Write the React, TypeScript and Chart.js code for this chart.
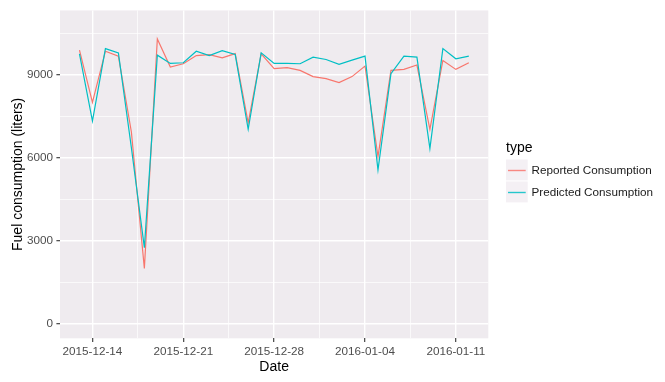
import React, { useEffect, useRef } from 'react';
import { Chart, registerables } from 'chart.js';

Chart.register(...registerables);

const dates = [
  '2015-12-13', '2015-12-14', '2015-12-15', '2015-12-16', '2015-12-17', '2015-12-18', '2015-12-19',
  '2015-12-20', '2015-12-21', '2015-12-22', '2015-12-23', '2015-12-24', '2015-12-25', '2015-12-26',
  '2015-12-27', '2015-12-28', '2015-12-29', '2015-12-30', '2015-12-31', '2016-01-01', '2016-01-02',
  '2016-01-03', '2016-01-04', '2016-01-05', '2016-01-06', '2016-01-07', '2016-01-08', '2016-01-09',
  '2016-01-10', '2016-01-11', '2016-01-12',
];

const reported = [
  9893, 8011, 9857, 9679, 6939, 2011, 10296, 9286, 9404, 9700, 9736, 9618, 9771, 7271, 9761,
  9225, 9261, 9164, 8939, 8868, 8725, 8939, 9321, 6046, 9164, 9200, 9357, 7036, 9521, 9200, 9439,
];

const predicted = [
  9761, 7332, 9950, 9796, 6368, 2761, 9714, 9414, 9439, 9857, 9700, 9879, 9736, 7036, 9796,
  9414, 9414, 9404, 9643, 9557, 9379, 9536, 9679, 5571, 9046, 9679, 9643, 6343, 9950, 9582, 9679,
];

const seriesNames = ['Reported Consumption', 'Predicted Consumption'];
const seriesColors = ['#F8766D', '#00BFC4'];
const xTickLabels = ['2015-12-14', '2015-12-21', '2015-12-28', '2016-01-04', '2016-01-11'];
const yTickValues = [0, 3000, 6000, 9000];
const legendTitle = 'type';
const xTitle = 'Date';
const yTitle = 'Fuel consumption (liters)';

const FONT = "'Liberation Sans', Arial, sans-serif";
const PANEL = '#EFEBEF';
const KEY_BG = '#F4F0F4';

const dayIndex = (s: string) =>
  (Date.parse(s + 'T00:00:00Z') - Date.parse(dates[0] + 'T00:00:00Z')) / 86400000;

const xMajor = xTickLabels.map(dayIndex);
const xMinor = xMajor.slice(1).map((v, i) => (v + xMajor[i]) / 2);
const X_MIN = -1.5;
const X_MAX = 31.5;
const Y_MIN = -515;
const Y_MAX = 11330;
const yStep = yTickValues[1] - yTickValues[0];
const yMinor = yTickValues.map((v) => v + yStep / 2).filter((v) => v <= Y_MAX);

const panelBg = {
  id: 'panelBg',
  beforeDraw(chart: any) {
    const { ctx, chartArea } = chart;
    const { left, top, right, bottom } = chartArea;
    ctx.save();
    ctx.fillStyle = PANEL;
    ctx.fillRect(left, top, right - left, bottom - top);
    ctx.restore();
  },
};

const legendPlugin = {
  id: 'ggLegend',
  afterDraw(chart: any) {
    const ctx = chart.ctx as CanvasRenderingContext2D;
    ctx.save();
    const x0 = 506;
    ctx.fillStyle = '#000000';
    ctx.font = `14px ${FONT}`;
    ctx.textAlign = 'left';
    ctx.textBaseline = 'middle';
    ctx.fillText(legendTitle, x0, 148.5);
    const keySize = 21.7;
    seriesNames.forEach((name, i) => {
      const ky = 159.5 + i * 22;
      ctx.fillStyle = KEY_BG;
      ctx.fillRect(x0, ky, keySize, keySize - 0.8);
      ctx.strokeStyle = seriesColors[i];
      ctx.globalAlpha = 0.85;
      ctx.lineWidth = 1.4;
      ctx.beginPath();
      ctx.moveTo(x0 + 2, ky + 11);
      ctx.lineTo(x0 + keySize - 2, ky + 11);
      ctx.stroke();
      ctx.globalAlpha = 1;
      ctx.fillStyle = '#1A1A1A';
      ctx.font = `11.7px ${FONT}`;
      ctx.fillText(name, 531.5, ky + 11);
    });
    ctx.restore();
  },
};

export default function App() {
  const ref = useRef<HTMLCanvasElement | null>(null);

  useEffect(() => {
    document.body.style.margin = '0';
    const canvas = ref.current;
    if (!canvas) return;
    const toPts = (arr: number[]) => arr.map((v, i) => ({ x: dayIndex(dates[i]), y: v }));
    const isXMajor = (v: number) => xMajor.some((m) => Math.abs(m - v) < 1e-6);
    const isYMajor = (v: number) => yTickValues.some((m) => Math.abs(m - v) < 1e-6);

    const chart = new Chart(canvas, {
      type: 'line',
      data: {
        datasets: [
          {
            label: seriesNames[0],
            data: toPts(reported),
            borderColor: seriesColors[0],
            borderWidth: 1.2,
            pointRadius: 0,
            tension: 0,
            fill: false,
            order: 1,
          },
          {
            label: seriesNames[1],
            data: toPts(predicted),
            borderColor: seriesColors[1],
            borderWidth: 1.2,
            pointRadius: 0,
            tension: 0,
            fill: false,
            order: 0,
          },
        ],
      },
      options: {
        animation: false,
        responsive: false,
        devicePixelRatio: 1,
        layout: { padding: { top: 7, right: 665 - 488.3, left: 0, bottom: 0 } },
        plugins: {
          legend: { display: false },
          tooltip: { enabled: false },
        },
        scales: {
          x: {
            type: 'linear',
            min: X_MIN,
            max: X_MAX,
            afterBuildTicks: (scale: any) => {
              scale.ticks = [...xMajor, ...xMinor].sort((a, b) => a - b).map((v) => ({ value: v }));
            },
            afterFit: (scale: any) => {
              scale.height = 382 - 338.3;
            },
            border: { display: false },
            grid: {
              color: '#FFFFFF',
              lineWidth: (c: any) => (c.tick && isXMajor(c.tick.value) ? 1.4 : 0.7),
              drawTicks: true,
              tickLength: 3.6,
              tickWidth: 1.1,
              tickColor: (c: any) => (c.tick && isXMajor(c.tick.value) ? '#333333' : 'rgba(0,0,0,0)'),
            },
            ticks: {
              autoSkip: false,
              maxRotation: 0,
              padding: 2.8,
              color: '#4D4D4D',
              font: { family: FONT, size: 11.7 },
              callback: (value: any) => {
                const idx = xMajor.findIndex((m) => Math.abs(m - Number(value)) < 1e-6);
                return idx >= 0 ? xTickLabels[idx] : '';
              },
            },
            title: {
              display: true,
              text: xTitle,
              color: '#000000',
              font: { family: FONT, size: 14 },
              padding: { top: 0, bottom: 6.9 },
            },
          },
          y: {
            type: 'linear',
            min: Y_MIN,
            max: Y_MAX,
            afterBuildTicks: (scale: any) => {
              scale.ticks = [...yTickValues, ...yMinor].sort((a, b) => a - b).map((v) => ({ value: v }));
            },
            afterFit: (scale: any) => {
              scale.width = 60;
            },
            border: { display: false },
            grid: {
              color: '#FFFFFF',
              lineWidth: (c: any) => (c.tick && isYMajor(c.tick.value) ? 1.4 : 0.7),
              drawTicks: true,
              tickLength: 3.6,
              tickWidth: 1.1,
              tickColor: (c: any) => (c.tick && isYMajor(c.tick.value) ? '#333333' : 'rgba(0,0,0,0)'),
            },
            ticks: {
              autoSkip: false,
              padding: 3.4,
              color: '#4D4D4D',
              font: { family: FONT, size: 11.7 },
              callback: (value: any) => (isYMajor(Number(value)) ? String(value) : ''),
            },
            title: {
              display: true,
              text: yTitle,
              color: '#000000',
              font: { family: FONT, size: 14 },
              padding: { top: 10.1, bottom: 0 },
            },
          },
        },
      },
      plugins: [panelBg, legendPlugin],
    });
    return () => chart.destroy();
  }, []);

  return (
    <div style={{ width: 665, height: 382 }}>
      <canvas ref={ref} width={665} height={382} style={{ display: 'block' }} />
    </div>
  );
}
